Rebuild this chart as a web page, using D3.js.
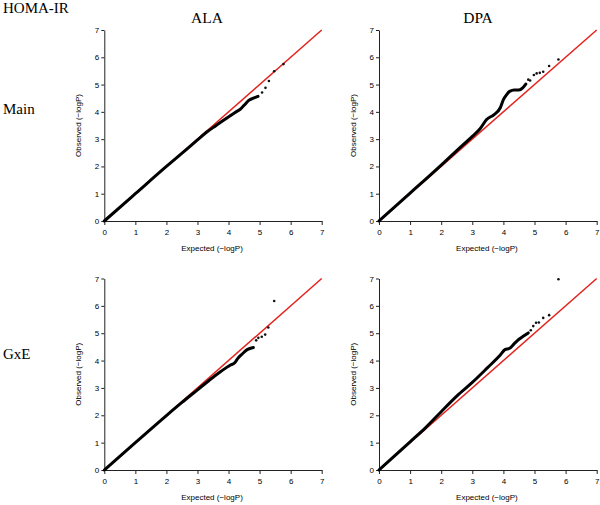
<!DOCTYPE html>
<html>
<head>
<meta charset="utf-8">
<script src="https://cdn.jsdelivr.net/npm/d3@7"></script>
<style>
  html, body { margin: 0; padding: 0; background: #fff; }
  svg { display: block; }
</style>
</head>
<body>
<svg id="chart" width="600" height="505"></svg>
<script>
// ---------------- data ----------------
const mainTitle = "HOMA-IR";
const columns = ["ALA", "DPA"];
const rows = ["Main", "GxE"];
const tickValues = [0, 1, 2, 3, 4, 5, 6, 7];
const xTitle = "Expected (\u2212logP)";
const yTitle = "Observed (\u2212logP)";
const refLine = [0, 7];

// dense part of each QQ curve: [expected, observed]
const alaMainLine = [[0,0],[1,1],[2,2],[2.6,2.58],[3,2.97],[3.3,3.26],[3.6,3.5],[3.9,3.74],[4.2,3.97],[4.4,4.12],[4.55,4.3],[4.65,4.42],[4.8,4.5],[4.95,4.57]];
const alaMainTail = [[5.08,4.71],[5.19,4.88],[5.30,5.13],[5.47,5.49],[5.77,5.75]];

const dpaMainLine = [[0,0],[1,1.02],[2,2.05],[2.5,2.58],[3,3.1],[3.25,3.38],[3.46,3.72],[3.7,3.9],[3.9,4.15],[4.0,4.45],[4.1,4.62],[4.2,4.75],[4.35,4.8],[4.5,4.8],[4.62,4.88],[4.72,5.02]];
const dpaMainTail = [[4.80,5.18],[4.86,5.15],[4.98,5.35],[5.07,5.41],[5.17,5.43],[5.28,5.47],[5.47,5.68],[5.77,5.92]];

const alaGxeLine = [[0,0],[1,1],[2,1.99],[2.5,2.47],[3,2.93],[3.4,3.3],[3.75,3.6],[4.05,3.83],[4.2,3.92],[4.3,4.08],[4.45,4.25],[4.6,4.4],[4.8,4.48]];
const alaGxeTail = [[4.89,4.74],[4.96,4.83],[5.07,4.87],[5.18,4.95],[5.28,5.21],[5.47,6.18]];

const dpaGxeLine = [[0,0],[1,1.03],[1.5,1.55],[2,2.13],[2.5,2.7],[3,3.2],[3.5,3.75],[3.9,4.2],[4.05,4.4],[4.2,4.45],[4.35,4.62],[4.5,4.78],[4.65,4.9],[4.8,5.01]];
const dpaGxeTail = [[4.88,5.11],[4.96,5.26],[5.05,5.38],[5.14,5.39],[5.28,5.56],[5.47,5.66],[5.77,6.97]];

// ---------------- layout ----------------
const panels = [
  { line: alaMainLine, tail: alaMainTail, x0: 104.3, x1: 321.7, y0: 221, y1: 30 },
  { line: dpaMainLine, tail: dpaMainTail, x0: 379,   x1: 596.7, y0: 221, y1: 30 },
  { line: alaGxeLine,  tail: alaGxeTail,  x0: 104.3, x1: 321.7, y0: 470, y1: 278.5 },
  { line: dpaGxeLine,  tail: dpaGxeTail,  x0: 379,   x1: 596.7, y0: 470, y1: 278.5 }
];

const svg = d3.select("#chart");
const serif = "'Liberation Serif', 'Times New Roman', serif";
const sans = "'Liberation Sans', Arial, sans-serif";

svg.append("text").attr("x", 3).attr("y", 12.7)
  .style("font-family", serif).style("font-size", "15px").attr("fill", "#000")
  .text(mainTitle);

const colCenters = [207, 478];
columns.forEach((c, i) => {
  svg.append("text").attr("x", colCenters[i]).attr("y", 22.7)
    .attr("text-anchor", "middle")
    .style("font-family", serif).style("font-size", "15.5px").attr("fill", "#000")
    .text(c);
});
const rowBaselines = [114, 359];
rows.forEach((r, i) => {
  svg.append("text").attr("x", 3).attr("y", rowBaselines[i])
    .style("font-family", serif).style("font-size", "15px").attr("fill", "#000")
    .text(r);
});

panels.forEach(p => {
  const x = d3.scaleLinear().domain([0, 7]).range([p.x0, p.x1]);
  const y = d3.scaleLinear().domain([0, 7]).range([p.y0, p.y1]);
  const g = svg.append("g");

  const xAxis = g.append("g").attr("transform", `translate(0,${p.y0})`)
    .call(d3.axisBottom(x).tickValues(tickValues).tickFormat(d3.format("d")).tickSize(4).tickPadding(4).tickSizeOuter(0));
  const yAxis = g.append("g").attr("transform", `translate(${p.x0},0)`)
    .call(d3.axisLeft(y).tickValues(tickValues).tickFormat(d3.format("d")).tickSize(3).tickPadding(2).tickSizeOuter(0));
  [xAxis, yAxis].forEach(a => {
    a.selectAll("path, line").attr("stroke", "#222").attr("stroke-width", 1);
    a.selectAll("text").style("font-family", sans).style("font-size", "8px").attr("fill", "#000");
  });

  g.append("text")
    .attr("x", (p.x0 + p.x1) / 2 - 1).attr("y", p.y0 + 30)
    .attr("text-anchor", "middle")
    .style("font-family", sans).style("font-size", "8px").attr("fill", "#000")
    .text(xTitle);
  g.append("text")
    .attr("transform", `translate(${p.x0 - 23},${(p.y0 + p.y1) / 2}) rotate(-90)`)
    .attr("text-anchor", "middle")
    .style("font-family", sans).style("font-size", "8px").attr("fill", "#000")
    .text(yTitle);

  // reference line
  g.append("line")
    .attr("x1", x(refLine[0])).attr("y1", y(refLine[0]))
    .attr("x2", x(refLine[1])).attr("y2", y(refLine[1]))
    .attr("stroke", "#e3221e").attr("stroke-width", 1.5);

  // dense points as thick curve
  g.append("path")
    .datum(p.line)
    .attr("d", d3.line().x(d => x(d[0])).y(d => y(d[1])).curve(d3.curveMonotoneX))
    .attr("fill", "none").attr("stroke", "#000")
    .attr("stroke-width", 3).attr("stroke-linecap", "round").attr("stroke-linejoin", "round");

  // sparse tail points
  g.selectAll("circle.tail").data(p.tail).enter().append("circle")
    .attr("class", "tail")
    .attr("cx", d => x(d[0])).attr("cy", d => y(d[1]))
    .attr("r", 1.3).attr("fill", "#111");
});
</script>
</body>
</html>
